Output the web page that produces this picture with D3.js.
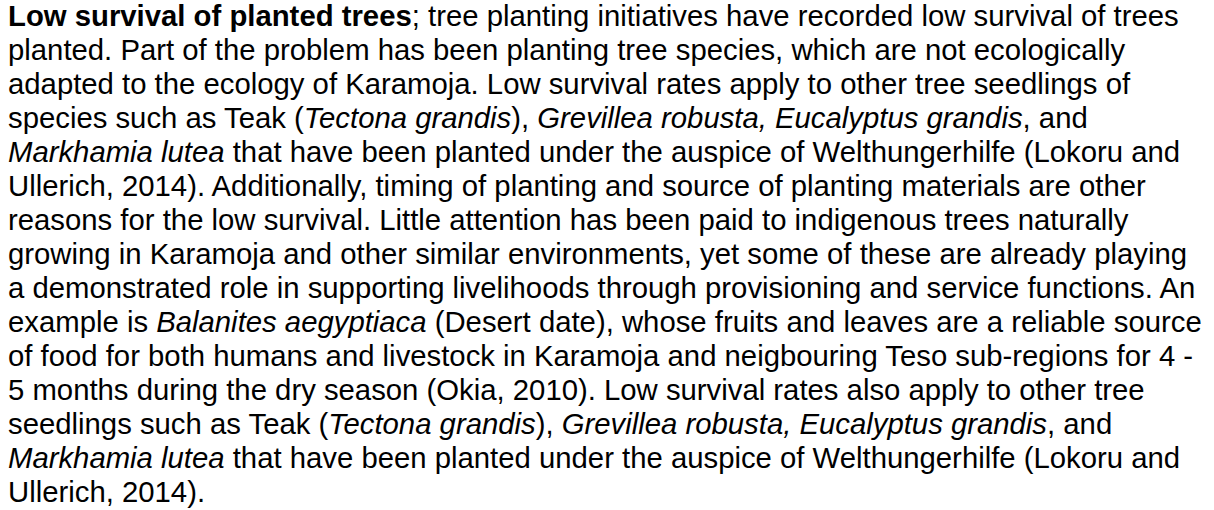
<!DOCTYPE html>
<html>
<head>
<meta charset="utf-8">
<script src="https://cdn.jsdelivr.net/npm/d3@7"></script>
<style>
  html, body { margin: 0; padding: 0; background: #ffffff; }
  svg { display: block; }
</style>
</head>
<body>
<svg id="chart" width="1214" height="510"></svg>
<script>
// Paragraph lines; each segment: [text, style] where style n=normal, b=bold, i=italic
const line01 = [["Low survival of planted trees", "b"], ["; tree planting initiatives have recorded low survival of trees", "n"]];
const line02 = [["planted. Part of the problem has been planting tree species, which are not ecologically", "n"]];
const line03 = [["adapted to the ecology of Karamoja. Low survival rates apply to other tree seedlings of", "n"]];
const line04 = [["species such as Teak (", "n"], ["Tectona grandis", "i"], ["), ", "n"], ["Grevillea robusta, Eucalyptus grandis", "i"], [", and", "n"]];
const line05 = [["Markhamia lutea", "i"], [" that have been planted under the auspice of Welthungerhilfe (Lokoru and", "n"]];
const line06 = [["Ullerich, 2014). Additionally, timing of planting and source of planting materials are other", "n"]];
const line07 = [["reasons for the low survival. Little attention has been paid to indigenous trees naturally", "n"]];
const line08 = [["growing in Karamoja and other similar environments, yet some of these are already playing", "n"]];
const line09 = [["a demonstrated role in supporting livelihoods through provisioning and service functions. An", "n"]];
const line10 = [["example is ", "n"], ["Balanites aegyptiaca", "i"], [" (Desert date), whose fruits and leaves are a reliable source", "n"]];
const line11 = [["of food for both humans and livestock in Karamoja and neigbouring Teso sub-regions for 4 -", "n"]];
const line12 = [["5 months during the dry season (Okia, 2010). Low survival rates also apply to other tree", "n"]];
const line13 = [["seedlings such as Teak (", "n"], ["Tectona grandis", "i"], ["), ", "n"], ["Grevillea robusta, Eucalyptus grandis", "i"], [", and", "n"]];
const line14 = [["Markhamia lutea", "i"], [" that have been planted under the auspice of Welthungerhilfe (Lokoru and", "n"]];
const line15 = [["Ullerich, 2014).", "n"]];

const lines = [line01, line02, line03, line04, line05, line06, line07, line08, line09, line10, line11, line12, line13, line14, line15];

const svg = d3.select("#chart");
const y = d3.scaleLinear().domain([0, lines.length - 1]).range([26, 501.5]);

const texts = svg.selectAll("text.line")
  .data(lines)
  .join("text")
  .attr("class", "line")
  .attr("x", 8)
  .attr("y", (d, i) => y(i))
  .attr("font-family", "'Liberation Sans', Arial, Helvetica, sans-serif")
  .attr("font-size", 29.3)
  .attr("fill", "#000000")
  .style("white-space", "pre")
  .attr("xml:space", "preserve");

texts.selectAll("tspan")
  .data(d => d)
  .join("tspan")
  .text(d => d[0])
  .attr("font-weight", d => d[1] === "b" ? "bold" : "normal")
  .attr("font-style", d => d[1] === "i" ? "italic" : "normal");
</script>
</body>
</html>
